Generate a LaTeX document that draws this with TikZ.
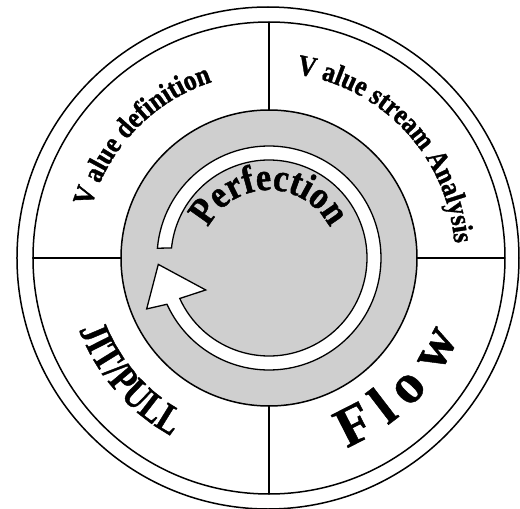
\documentclass[tikz,border=0pt]{standalone}
\usepackage{fontspec}
\setmainfont{Liberation Serif}
\newfontfamily\heavyfont{Liberation Serif}[FakeStretch=0.88, FakeBold=1.2]
\newfontfamily\jitfont{Liberation Serif}[FakeStretch=0.78, FakeBold=1.0]
\newfontfamily\flowfont{Liberation Serif}[FakeBold=0.8]
\usetikzlibrary{decorations.text}
\newcommand\ringfont{\heavyfont\fontsize{29}{32}\selectfont\bfseries}
\newcommand\perffont{\heavyfont\fontsize{39}{42}\selectfont\bfseries}
\newcommand\jitfnt{\jitfont\fontsize{41}{44}\selectfont\bfseries}
\begin{document}
\begin{tikzpicture}[x=1pt,y=1pt,
  ringline/.style={line width=1.5pt},
  divline/.style={line width=1.3pt},
  ringtext/.style={decorate, decoration={text along path, text align=center}},
  flowletter/.style={anchor=base, inner sep=0pt, font=\flowfont\fontsize{56}{60}\selectfont\bfseries},
  bandfill/.style={fill=white, draw=black, line width=1.3pt, line join=miter}
]
\useasboundingbox (-269,-251) rectangle (251,258);
\fill[white] (-269,-251) rectangle (251,258);
% rings
\draw[ringline] (-1,0) circle[radius=251];
\draw[ringline] (0,0) circle[radius=236];
\draw[ringline, fill=black!19] (0,0) circle[radius=148];
% dividers
\draw[divline] (180:236) -- (180:148);
\draw[divline] (0:236) -- (0:148);
\draw[divline] (90:236) -- (90:148);
\draw[divline] (270:236) -- (270:148);
% circular arrow band
\draw[bandfill] (175:112) arc[start angle=175, end angle=-155.6, radius=112]
  -- (-157.4:132.5) -- (-176.7:110.9) -- (-153.2:70.9) -- (-155.6:98)
  arc[start angle=-155.6, end angle=174.1, radius=98] -- cycle;
% texts along arcs
\path[ringtext, decoration={text={|\ringfont|V alue definition}}]
  (196:185) arc[start angle=196, end angle=76, radius=185];
\path[ringtext, decoration={text={|\ringfont|V alue stream Analysis}}]
  (118:186) arc[start angle=118, end angle=-32, radius=186];
\path[ringtext, decoration={text={|\perffont|Perfection}}]
  (170:68) arc[start angle=170, end angle=10, radius=68];
\path[ringtext, decoration={text={|\jitfnt|JIT/PULL}}]
  (181:203) arc[start angle=181, end angle=261, radius=203];
\foreach \ch/\ang [count=\i] in {F/297, l/307.5, o/317, w/331.5}
  \node[flowletter, rotate=\ang+90] (flow\i) at (\ang:205) {\ch};
\end{tikzpicture}
\end{document}
